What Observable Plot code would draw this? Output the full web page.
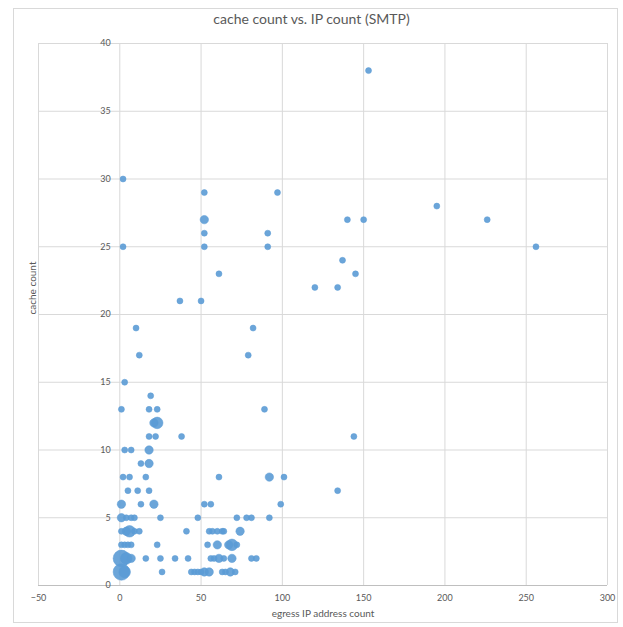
<!DOCTYPE html>
<html>
<head>
<meta charset="utf-8">
<script src="https://cdn.jsdelivr.net/npm/d3@7"></script>
<script src="https://cdn.jsdelivr.net/npm/@observablehq/plot@0.6"></script>
<style>
  body { margin: 0; background: #fff; }
  #wrap { position: relative; width: 623px; height: 627px; overflow: hidden; font-family: Lato, "Open Sans", sans-serif; }
  #border { position: absolute; left: 13px; top: 8px; width: 603px; height: 613px; border: 1px solid #d9d9d9; }
  #title { position: absolute; left: 0; width: 623px; top: 10px; text-align: center; font-size: 14px; color: #595959; }
  #chart { position: absolute; left: 0; top: 0; }
</style>
</head>
<body>
<div id="wrap">
  <div id="border"></div>
  <div id="chart"></div>
  <div id="title">cache count vs. IP count (SMTP)</div>
</div>
<script>
// egress IP address count (x), cache count (y), bubble size
const egressIPs = [
  1,3,26,44,46,48,50,52,55,63,65,68,71,
  1,4,7,16,25,34,42,56,58,61,64,69,81,84,
  1,3,5,7,23,54,60,67,69,72,
  1,4,6,9,12,41,55,57,60,63,64,74,
  1,4,7,9,25,48,72,78,81,92,
  1,13,21,52,56,99,
  5,11,18,134,
  2,6,16,61,92,101,
  13,18,
  3,7,18,
  18,22,38,144,
  21,23,
  1,18,23,89,
  19,
  3,
  12,79,
  10,82,
  37,50,
  120,134,
  61,145,
  137,
  2,52,91,256,
  52,91,
  52,140,150,226,
  195,
  52,97,
  2,
  153
];
const cacheCounts = [
  1,1,1,1,1,1,1,1,1,1,1,1,1,
  2,2,2,2,2,2,2,2,2,2,2,2,2,2,
  3,3,3,3,3,3,3,3,3,3,
  4,4,4,4,4,4,4,4,4,4,4,4,
  5,5,5,5,5,5,5,5,5,5,
  6,6,6,6,6,6,
  7,7,7,7,
  8,8,8,8,8,8,
  9,9,
  10,10,10,
  11,11,11,11,
  12,12,
  13,13,13,13,
  14,
  15,
  17,17,
  19,19,
  21,21,
  22,22,
  23,23,
  24,
  25,25,25,25,
  26,26,
  27,27,27,27,
  28,
  29,29,
  30,
  38
];
const bubbleSizes = [
  4,3,1,1,1,1,1,2,2,1,1,2,1,
  4,3,2,1,1,1,1,1,1,2,1,2,1,1,
  1,1,1,1,1,1,2,2,3,1,
  1,2,3,1,1,1,1,1,1,1,1,2,
  2,1,1,1,1,1,1,1,1,1,
  2,1,2,1,1,1,
  1,1,1,1,
  1,1,1,1,2,1,
  1,2,
  1,1,2,
  1,1,1,1,
  2,3,
  1,1,1,1,
  1,
  1,
  1,1,
  1,1,
  1,1,
  1,1,
  1,1,
  1,
  1,1,1,1,
  1,1,
  2,1,1,1,
  1,
  1,1,
  1,
  1
];
const xTicks = [-50, 0, 50, 100, 150, 200, 250, 300];
const yTicks = [0, 5, 10, 15, 20, 25, 30, 35, 40];

const points = egressIPs.map((x, i) => ({x, y: cacheCounts[i], s: bubbleSizes[i]}))
  .sort((a, b) => b.s - a.s);

const chart = Plot.plot({
  width: 623,
  height: 627,
  marginLeft: 38,
  marginRight: 16,
  marginTop: 43,
  marginBottom: 42,
  style: {fontFamily: "Lato, 'Open Sans', sans-serif", fontSize: "9px", color: "#595959", background: "transparent"},
  x: {domain: [-50, 300]},
  y: {domain: [0, 40], axis: null},
  r: {type: "linear", domain: [1, 2, 3, 4], range: [3, 4.2, 5.8, 8.3]},
  marks: [
    Plot.gridX(xTicks, {stroke: "#d9d9d9", strokeOpacity: 1}),
    Plot.gridY(yTicks.filter(d => d > 0), {stroke: "#d9d9d9", strokeOpacity: 1}),
    Plot.ruleY([0], {stroke: "#bfbfbf"}),
    Plot.axisX(xTicks, {tickSize: 0, tickPadding: 9, label: null, fill: "#595959", fontSize: 9}),
    Plot.text(yTicks, {x: 0, y: d => d, text: d => String(d), dx: -9, textAnchor: "end", fill: "#595959", fontSize: 9}),
    Plot.dot(points, {x: "x", y: "y", r: "s", fill: "#5b9bd5", fillOpacity: 0.9, stroke: "#5b9bd5", strokeWidth: 0.5}),
    Plot.text(["egress IP address count"], {frameAnchor: "bottom", dy: 31, fill: "#595959", fontSize: 10}),
    Plot.text(["cache count"], {frameAnchor: "left", dx: -6, rotate: -90, fill: "#595959", fontSize: 10})
  ]
});
document.getElementById("chart").appendChild(chart);
</script>
</body>
</html>
